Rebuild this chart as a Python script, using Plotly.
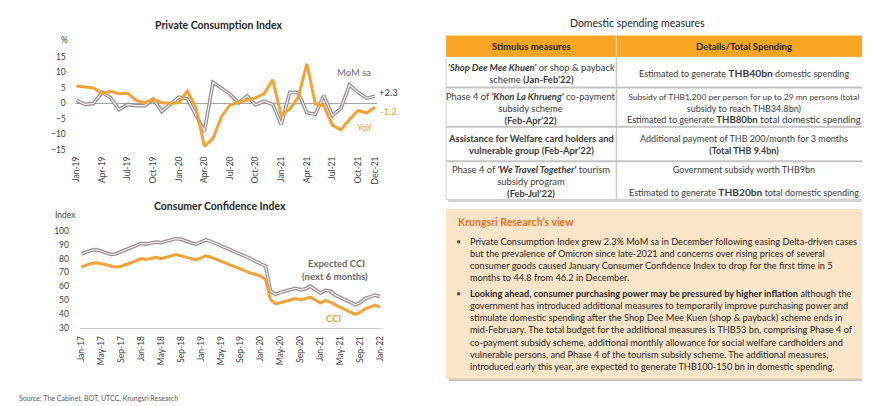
import plotly.graph_objects as go
import pandas as pd

# ---------------- DATA ----------------
pci_months = pd.date_range("2019-01-01", "2021-12-01", freq="MS").strftime("%b-%y").tolist()
pci_mom = [1.0, -0.3, 0.0, 3.6, 1.8, -2.0, -0.3, -0.7, -0.7, 1.4, -2.6, -0.2,
           2.0, 1.5, -3.5, -9.0, 6.8, 4.8, 3.0, 0.2, 2.4, -0.5, 0.7, -0.3,
           -6.8, 3.6, 3.5, -3.0, -3.5, 2.6, -3.9, -1.6, 6.0, 3.6, 1.7, 2.3]
pci_yoy = [5.6, 5.4, 5.0, 3.2, 3.9, 3.1, 3.3, 1.0, 0.2, 1.4, 0.2, 0.0,
           0.3, 4.0, -1.3, -13.9, -11.3, -4.2, -0.5, 0.4, 1.0, 1.8, 3.2, 7.6,
           -3.8, -1.8, 2.0, 12.8, -0.2, -0.8, -7.0, -8.5, -5.2, -2.3, -3.1, -1.2]
pci_ticks = ["Jan-19", "Apr-19", "Jul-19", "Oct-19", "Jan-20", "Apr-20", "Jul-20",
             "Oct-20", "Jan-21", "Apr-21", "Jul-21", "Oct-21", "Dec-21"]
pci_yticks = [-15, -10, -5, 0, 5, 10, 15]

cci_months = pd.date_range("2017-01-01", "2022-01-01", freq="MS").strftime("%b-%y").tolist()
cci = [74.0, 75.5, 76.5, 77.0, 76.5, 75.5, 74.5, 74.0, 74.5, 75.5, 77.0, 78.5,
       80.0, 79.3, 80.0, 81.0, 80.0, 81.0, 82.0, 83.0, 82.0, 81.0, 80.0, 79.0,
       80.5, 82.0, 81.0, 79.5, 78.0, 76.5, 75.5, 74.0, 72.5, 71.0, 69.5, 68.5,
       67.3, 64.8, 50.3, 47.2, 48.0, 49.0, 50.0, 51.0, 50.2, 51.0, 52.0, 50.0,
       47.8, 49.5, 48.5, 46.5, 44.8, 43.0, 41.5, 39.6, 41.0, 43.5, 44.8, 46.2,
       44.8]
cci_expected = [83.5, 85.0, 86.0, 86.5, 85.5, 84.0, 83.0, 83.5, 85.0, 86.5, 88.0, 89.5,
                91.0, 90.5, 91.0, 92.0, 91.5, 92.5, 93.5, 94.5, 94.0, 92.5, 91.5, 90.5,
                92.0, 93.5, 92.5, 91.0, 89.5, 88.0, 86.5, 85.0, 83.5, 82.0, 80.0, 78.0,
                76.5, 74.5, 56.5, 54.0, 55.5, 56.5, 57.5, 58.5, 57.5, 58.0, 60.0, 57.5,
                55.0, 57.0, 56.5, 53.5, 52.0, 50.0, 48.5, 46.5, 48.0, 51.0, 52.0, 53.5,
                52.5]
cci_ticks = ["Jan-17", "May-17", "Sep-17", "Jan-18", "May-18", "Sep-18", "Jan-19",
             "May-19", "Sep-19", "Jan-20", "May-20", "Sep-20", "Jan-21", "May-21",
             "Sep-21", "Jan-22"]
cci_yticks = [30, 40, 50, 60, 70, 80, 90, 100]

table_header = ["Stimulus measures", "Details/Total Spending"]
table_col1 = [
    "<b><i>'Shop Dee Mee Khuen'</i></b> or shop &amp; payback<br>scheme <b>(Jan-Feb’22)</b>",
    "Phase 4 of <b><i>'Khon La Khrueng'</i></b> co-payment<br>subsidy scheme<br><b>(Feb-Apr’22)</b>",
    "<b>Assistance for Welfare card holders and<br>vulnerable group (Feb-Apr’22)</b>",
    "Phase 4 of <b><i>'We Travel Together'</i></b> tourism<br>subsidy program<br><b>(Feb-Jul’22)</b>",
]
table_col2 = [
    "Estimated to generate <span style='font-size:10.3px'><b>THB40bn</b></span> domestic spending",
    "<span style='font-size:8.4px'>Subsidy of THB1,200 per person for up to 29 mn persons (total</span><br>"
    "subsidy to reach THB34.8bn)<br>"
    "Estimated to generate <span style='font-size:9.6px'><b>THB80bn</b> total domestic spending</span>",
    "Additional payment of THB 200/month for 3 months<br><b>(Total THB 9.4bn)</b>",
    "Government subsidy worth THB9bn<br><br>Estimated to generate "
    "<span style='font-size:10.2px'><b>THB20bn</b></span> total domestic spending",
]

view_title = "Krungsri Research’s view"
bullet1 = [
    "Private Consumption Index grew 2.3% MoM sa in December following easing Delta-driven cases",
    "but the prevalence of Omicron since late-2021 and concerns over rising prices of several",
    "consumer goods caused January Consumer Confidence Index to drop for the first time in 5",
    "months to 44.8 from 46.2 in December.",
]
bullet2 = [
    "<b>Looking ahead, consumer purchasing power may be pressured by higher inflation</b> although the",
    "government has introduced additional measures to temporarily improve purchasing power and",
    "stimulate domestic spending after the Shop Dee Mee Kuen (shop &amp; payback) scheme ends in",
    "mid-February. The total budget for the additional measures is THB53 bn, comprising Phase 4 of",
    "co-payment subsidy scheme, additional monthly allowance for social welfare cardholders and",
    "vulnerable persons, and Phase 4 of the tourism subsidy scheme. The additional measures,",
    "introduced early this year, are expected to generate THB100-150 bn in domestic spending.",
]
source_text = "Source: The Cabinet, BOT, UTCC, Krungsri Research"

# ---------------- STYLE / LAYOUT ----------------
W, H = 870, 406
FONT = "Lato"
ORANGE = "#F2A236"
GRAY = "#958b8e"
GRAY_IN = "#f3f1f1"
TXT = "#262626"
AX = "#404040"


def px(x):
    return x / W


def py(y):
    return 1 - y / H


fig = go.Figure()

# Top chart
fig.add_trace(go.Scatter(x=pci_months, y=pci_mom, mode="lines", line=dict(color=GRAY, width=3.6),
                         xaxis="x", yaxis="y", hoverinfo="skip", showlegend=False))
fig.add_trace(go.Scatter(x=pci_months, y=pci_mom, mode="lines", line=dict(color=GRAY_IN, width=1.2),
                         xaxis="x", yaxis="y", hoverinfo="skip", showlegend=False))
fig.add_trace(go.Scatter(x=pci_months, y=pci_yoy, mode="lines", line=dict(color=ORANGE, width=3),
                         xaxis="x", yaxis="y", hoverinfo="skip", showlegend=False))

# Bottom chart
fig.add_trace(go.Scatter(x=cci_months, y=cci_expected, mode="lines", line=dict(color=GRAY, width=3.6),
                         xaxis="x2", yaxis="y2", hoverinfo="skip", showlegend=False))
fig.add_trace(go.Scatter(x=cci_months, y=cci_expected, mode="lines", line=dict(color=GRAY_IN, width=1.2),
                         xaxis="x2", yaxis="y2", hoverinfo="skip", showlegend=False))
fig.add_trace(go.Scatter(x=cci_months, y=cci, mode="lines", line=dict(color=ORANGE, width=3),
                         xaxis="x2", yaxis="y2", hoverinfo="skip", showlegend=False))

tickfont = dict(family=FONT, size=8.5, color=AX)

# top axes: idx0 at 65px, idx35 at 366px ; y -15 at 141px, 15 at 46px
step1 = (366 - 65) / 35
ypu1 = (141 - 46) / 30
fig.update_layout(
    xaxis=dict(domain=[px(65 - 0.2 * step1), px(366 + 0.2 * step1)], type="category",
               range=[-0.2, 35.2], tickvals=pci_ticks, ticktext=pci_ticks, tickangle=-90,
               showgrid=False, zeroline=False, showline=False, ticks="", tickfont=tickfont,
               ticklabelstandoff=3, anchor="y", fixedrange=True),
    yaxis=dict(domain=[py(141 + 0.3 * ypu1), py(46 - 0.3 * ypu1)], range=[-15.3, 15.3],
               tickvals=pci_yticks, showgrid=False, zeroline=True, zerolinecolor="#a6a6a6",
               zerolinewidth=1, showline=False, ticks="", tickfont=tickfont,
               ticklabelstandoff=8, anchor="x", fixedrange=True),
)

step2 = (371 - 70) / 60
ypu2 = (322.7 - 224) / 70
fig.update_layout(
    xaxis2=dict(domain=[px(70 - 0.3 * step2), px(371 + 0.3 * step2)], type="category",
                range=[-0.3, 60.3], tickvals=cci_ticks, ticktext=cci_ticks, tickangle=-90,
                showgrid=False, zeroline=False, showline=True, linecolor="#c8c8c8", linewidth=1,
                ticks="", tickfont=tickfont, ticklabelstandoff=4, anchor="y2", fixedrange=True),
    yaxis2=dict(domain=[py(322.7), py(224 - 1.0 * ypu2)], range=[30, 101], tickvals=cci_yticks,
                showgrid=False, zeroline=False, showline=False, ticks="", tickfont=tickfont,
                ticklabelstandoff=10, anchor="x2", fixedrange=True),
)

ann = []
shapes = []


def text(x, y, s, size=9, color=TXT, bold=False, xanchor="center", family=FONT):
    ann.append(dict(x=px(x), y=py(y), xref="paper", yref="paper", text=("<b>%s</b>" % s) if bold else s,
                    showarrow=False, xanchor=xanchor, yanchor="middle",
                    font=dict(family=family, size=size, color=color), align="center"))


# chart titles and labels
text(208, 13.5, "Private Consumption Index", size=10.5, bold=True)
text(210, 198.5, "Consumer Confidence Index", size=10.5, bold=True)
text(52.5, 28.5, "%", size=8.5, color=AX)
text(54, 208, "Index", size=8.5, color=AX)
text(345, 61.7, "MoM sa", size=9.5, color="#6f6869")
text(380, 82, "+2.3", size=9.5, color=AX)
text(380, 101.5, "-1.2", size=9.5, color=ORANGE)
text(355.5, 118.5, "YoY", size=9.5, color=ORANGE)
text(327.5, 257, "Expected CCI", size=9.5, color="#6f6869", bold=True)
text(326, 270.5, "(next 6 months)", size=9.5, color="#6f6869", bold=True)
text(324.5, 313.5, "CCI", size=9.5, color=ORANGE, bold=True)
text(5, 395.5, source_text, size=7, color="#595959", xanchor="left")

# ---------------- TABLE ----------------
tx0, tx1, tdiv = 437.7, 865.7, 609.3
row_edges = [24, 45.7, 77.3, 117.3, 152.7, 191.7]
text(631, 11.5, "Domestic spending measures", size=10.5)

shapes.append(dict(type="rect", xref="paper", yref="paper", x0=px(tx0 + 2), x1=px(tx1 + 2),
                   y0=py(row_edges[-1] + 2.5), y1=py(row_edges[0] + 2), fillcolor="#d4d4d4",
                   line=dict(width=0), layer="below"))
shapes.append(dict(type="rect", xref="paper", yref="paper", x0=px(tx0), x1=px(tx1),
                   y0=py(row_edges[-1]), y1=py(row_edges[1]), fillcolor="#ffffff",
                   line=dict(color="#cfcfcf", width=1), layer="below"))
shapes.append(dict(type="rect", xref="paper", yref="paper", x0=px(tx0), x1=px(tx1),
                   y0=py(row_edges[1]), y1=py(row_edges[0]), fillcolor="#F7A523",
                   line=dict(width=0), layer="below"))
shapes.append(dict(type="line", xref="paper", yref="paper", x0=px(tdiv), x1=px(tdiv),
                   y0=py(row_edges[1]), y1=py(row_edges[0]), line=dict(color="#fbd9a0", width=1)))
shapes.append(dict(type="line", xref="paper", yref="paper", x0=px(tdiv), x1=px(tdiv),
                   y0=py(row_edges[-1]), y1=py(row_edges[1]), line=dict(color="#c8c8c8", width=1.5)))
for ye in row_edges[2:-1]:
    shapes.append(dict(type="line", xref="paper", yref="paper", x0=px(tx0), x1=px(tx1),
                       y0=py(ye), y1=py(ye), line=dict(color="#c4c4c4", width=2)))

cx1 = (tx0 + tdiv) / 2
cx2 = (tdiv + tx1) / 2
hy = (row_edges[0] + row_edges[1]) / 2
text(cx1, hy, table_header[0], size=9.5, bold=True)
text(cx2, hy, table_header[1], size=9.5, bold=True)
for i in range(len(table_col1)):
    ymid = (row_edges[i + 1] + row_edges[i + 2]) / 2 + 1
    text(cx1, ymid, table_col1[i], size=9.4, color="#3a3a3a")
    text(cx2, ymid, table_col2[i], size=9, color="#3a3a3a")

# ---------------- VIEW BOX ----------------
bx0, bx1, by0, by1 = 438, 862, 201.7, 375
shapes.append(dict(type="rect", xref="paper", yref="paper", x0=px(bx0 + 2.5), x1=px(bx1 + 2.5),
                   y0=py(by1 + 2.5), y1=py(by0 + 2.5), fillcolor="#c9c3bc", line=dict(width=0),
                   layer="below"))
shapes.append(dict(type="rect", xref="paper", yref="paper", x0=px(bx0), x1=px(bx1),
                   y0=py(by1), y1=py(by0), fillcolor="#FCE5C9", line=dict(color="#f3d3ab", width=0.5),
                   layer="below"))
text(447.5, 214.5, view_title, size=10.5, color="#E4701E", bold=True, xanchor="left")

line_gap = 12.3
for k, lines, y_start in ((0, bullet1, 234.3), (1, bullet2, 288.3)):
    text(450.5, y_start, "•", size=9, color="#555555")
    for j, s in enumerate(lines):
        text(459.3, y_start + j * line_gap, s, size=9.2, color=TXT, xanchor="left")

fig.update_layout(
    width=W, height=H, margin=dict(l=0, r=0, t=0, b=0),
    paper_bgcolor="white", plot_bgcolor="rgba(0,0,0,0)",
    annotations=ann, shapes=shapes, showlegend=False,
    font=dict(family=FONT, color=TXT),
)

fig.write_html("out.html")
